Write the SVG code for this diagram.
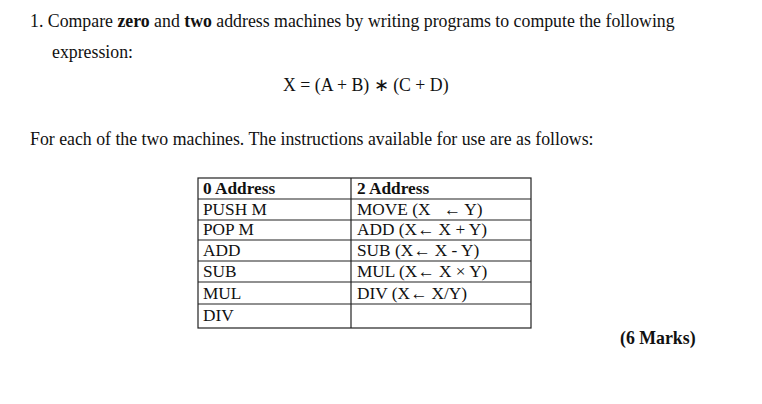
<svg xmlns="http://www.w3.org/2000/svg" width="762" height="404" viewBox="0 0 762 404">
<style>
text{font-family:"Liberation Serif",serif;font-size:17.8px;fill:#111;white-space:pre}
.t{font-size:17.3px}
.g line,.g rect{stroke:#222;stroke-width:1.2;fill:none}
</style>
<rect x="0" y="0" width="762" height="404" style="fill:#fff;stroke:none"/>
<text x="30" y="27">1. Compare <tspan font-weight="bold">zero</tspan> and <tspan font-weight="bold">two</tspan> address machines by writing programs to compute the following</text>
<text x="52" y="58">expression:</text>
<text x="283" y="91">X = (A + B) ∗ (C + D)</text>
<text x="30" y="145">For each of the two machines. The instructions available for use are as follows:</text>
<g id="table" class="g">
<rect x="198" y="178" width="333" height="150"/>
<line x1="351" y1="178" x2="351" y2="328"/>
<line x1="198" y1="199" x2="531" y2="199"/>
<line x1="198" y1="220" x2="531" y2="220"/>
<line x1="198" y1="240" x2="531" y2="240"/>
<line x1="198" y1="261" x2="531" y2="261"/>
<line x1="198" y1="282" x2="531" y2="282"/>
<line x1="198" y1="304" x2="531" y2="304"/>
<text class="t" x="203" y="194" font-weight="bold">0 Address</text>
<text class="t" x="203" y="215">PUSH M</text>
<text class="t" x="203" y="235">POP M</text>
<text class="t" x="203" y="256">ADD</text>
<text class="t" x="203" y="277">SUB</text>
<text class="t" x="203" y="299">MUL</text>
<text class="t" x="203" y="321">DIV</text>
<text class="t" x="357" y="194" font-weight="bold">2 Address</text>
<text class="t" x="357" y="215">MOVE (X   ← Y)</text>
<text class="t" x="357" y="235">ADD (X← X + Y)</text>
<text class="t" x="357" y="256">SUB (X← X - Y)</text>
<text class="t" x="357" y="277">MUL (X← X × Y)</text>
<text class="t" x="357" y="299">DIV (X← X/Y)</text>
</g>
<text x="620" y="344" font-weight="bold">(6 Marks)</text>
</svg>
